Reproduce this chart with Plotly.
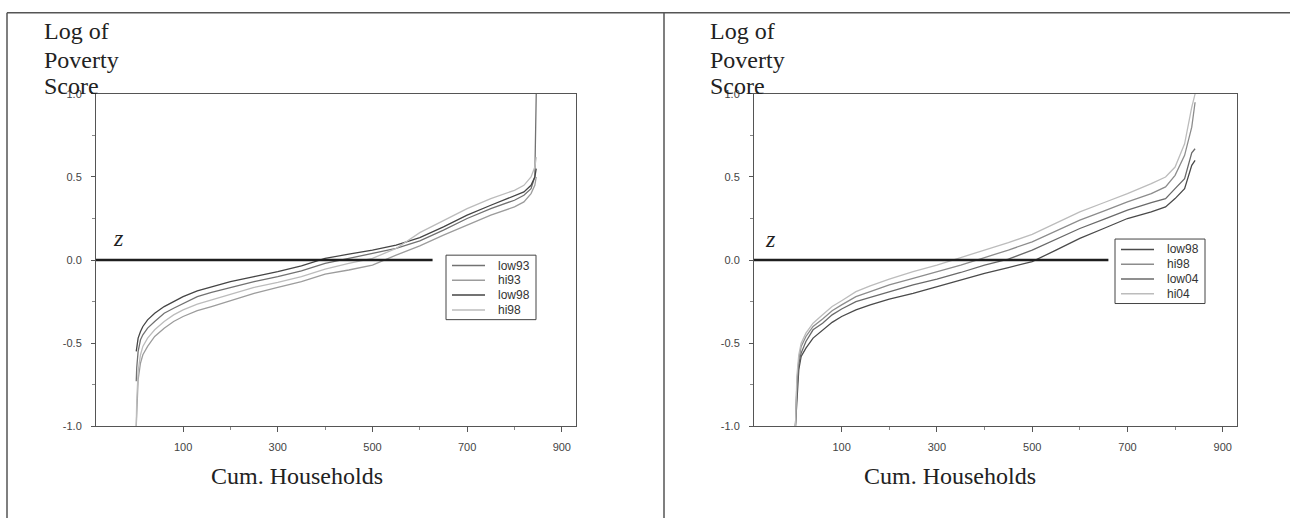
import plotly.graph_objects as go

# ---------------- data ----------------
x_left = [1, 2, 5, 10, 15, 25, 40, 60, 80, 100, 130, 160, 200, 250, 300, 350,
          400, 450, 500, 550, 600, 650, 700, 750, 800, 820, 835, 843, 846]
low93 = [-0.73, -0.65, -0.55, -0.48, -0.45, -0.41, -0.37, -0.32, -0.29, -0.26, -0.22, -0.195,
         -0.165, -0.13, -0.10, -0.065, -0.02, 0.01, 0.04, 0.07, 0.115, 0.18, 0.25, 0.31,
         0.36, 0.39, 0.43, 0.50, 1.0]
hi93 = [-1.0, -0.90, -0.72, -0.62, -0.57, -0.52, -0.46, -0.41, -0.37, -0.34, -0.305, -0.28,
        -0.245, -0.20, -0.165, -0.13, -0.085, -0.06, -0.03, 0.03, 0.085, 0.15, 0.21, 0.27,
        0.32, 0.35, 0.40, 0.45, 0.50]
low98_a = [-0.55, -0.52, -0.47, -0.43, -0.40, -0.36, -0.32, -0.28, -0.25, -0.22, -0.185, -0.16,
           -0.13, -0.10, -0.07, -0.035, 0.01, 0.035, 0.06, 0.09, 0.135, 0.20, 0.27, 0.33,
           0.39, 0.41, 0.45, 0.50, 0.55]
hi98_a = [-1.0, -0.85, -0.67, -0.57, -0.52, -0.47, -0.42, -0.37, -0.33, -0.30, -0.265, -0.24,
          -0.21, -0.165, -0.135, -0.10, -0.055, -0.02, 0.01, 0.07, 0.165, 0.24, 0.31, 0.37,
          0.42, 0.45, 0.50, 0.56, 0.62]

x_right = [3, 4, 6, 10, 15, 25, 40, 60, 80, 100, 130, 160, 200, 250, 300, 350,
           400, 450, 500, 550, 600, 650, 700, 750, 780, 800, 820, 835, 842]
low98_b = [-1.0, -0.95, -0.82, -0.66, -0.58, -0.53, -0.47, -0.42, -0.375, -0.34, -0.30, -0.27,
           -0.235, -0.20, -0.16, -0.12, -0.08, -0.045, -0.01, 0.06, 0.13, 0.19, 0.25, 0.29,
           0.32, 0.37, 0.43, 0.57, 0.60]
hi98_b = [-1.0, -0.88, -0.74, -0.60, -0.52, -0.46, -0.40, -0.355, -0.305, -0.27, -0.22, -0.19,
          -0.15, -0.11, -0.07, -0.03, 0.015, 0.06, 0.11, 0.175, 0.24, 0.295, 0.35, 0.40,
          0.44, 0.51, 0.63, 0.80, 0.95]
low04 = [-1.0, -0.92, -0.78, -0.63, -0.56, -0.49, -0.42, -0.38, -0.33, -0.295, -0.25, -0.225,
         -0.19, -0.15, -0.115, -0.075, -0.03, 0.005, 0.06, 0.125, 0.19, 0.245, 0.30, 0.345,
         0.37, 0.43, 0.49, 0.645, 0.67]
hi04 = [-1.0, -0.85, -0.70, -0.57, -0.50, -0.44, -0.38, -0.33, -0.28, -0.245, -0.19, -0.155,
        -0.115, -0.07, -0.03, 0.015, 0.06, 0.105, 0.155, 0.22, 0.29, 0.345, 0.40, 0.46,
        0.50, 0.56, 0.70, 0.92, 1.0]

z_level = 0.0
z_line_left = [-84, 627]
z_line_right = [-84, 660]

x_ticks = [100, 300, 500, 700, 900]
x_minor = [200, 400, 600, 800]
y_ticks = [-1.0, -0.5, 0.0, 0.5, 1.0]
y_tick_text = ["-1.0", "-0.5", "0.0", "0.5", "1.0"]
y_minor = [-0.75, -0.25, 0.25, 0.75]

left_names = ["low93", "hi93", "low98", "hi98"]
right_names = ["low98", "hi98", "low04", "hi04"]

# ---------------- figure ----------------
W, H = 1295, 524
def px_x(p):
    return p / W
def px_y(p):
    return (H - p) / H

SERIF = "Liberation Serif, Times New Roman, serif"
SANS = "Liberation Sans, Arial, sans-serif"

fig = go.Figure()

left_series = [low93, hi93, low98_a, hi98_a]
left_colors = ["#727272", "#9c9c9c", "#454545", "#bcbcbc"]
for name, ys, col in zip(left_names, left_series, left_colors):
    fig.add_trace(go.Scatter(x=x_left, y=ys, mode="lines", name=name,
                             line=dict(color=col, width=1.3), showlegend=False,
                             xaxis="x", yaxis="y"))

right_series = [low98_b, hi98_b, low04, hi04]
right_colors = ["#4a4a4a", "#8c8c8c", "#6a6a6a", "#bcbcbc"]
for name, ys, col in zip(right_names, right_series, right_colors):
    fig.add_trace(go.Scatter(x=x_right, y=ys, mode="lines", name=name,
                             line=dict(color=col, width=1.3), showlegend=False,
                             xaxis="x2", yaxis="y2"))

fig.add_trace(go.Scatter(x=z_line_left, y=[z_level, z_level], mode="lines",
                         line=dict(color="#1e1e1e", width=2.6), showlegend=False,
                         xaxis="x", yaxis="y"))
fig.add_trace(go.Scatter(x=z_line_right, y=[z_level, z_level], mode="lines",
                         line=dict(color="#1e1e1e", width=2.6), showlegend=False,
                         xaxis="x2", yaxis="y2"))

ydom = [px_y(430), px_y(90)]

def xaxis_cfg(dom, anchor):
    return dict(domain=dom, anchor=anchor, range=[-84, 930],
                tickmode="array", tickvals=x_ticks, ticktext=[str(v) for v in x_ticks],
                ticks="outside", ticklen=5, tickcolor="#555", tickwidth=1,
                ticklabelstandoff=6,
                minor=dict(tickmode="array", tickvals=x_minor, ticks="outside",
                           ticklen=3, tickcolor="#888", showgrid=False),
                showline=True, linecolor="#555", linewidth=1, mirror=True,
                showgrid=False, zeroline=False,
                tickfont=dict(family=SANS, size=11, color="#444"))

def yaxis_cfg(anchor):
    return dict(domain=ydom, anchor=anchor, range=[-1.0, 1.0],
                tickmode="array", tickvals=y_ticks, ticktext=y_tick_text,
                ticks="outside", ticklen=4, tickcolor="#555", tickwidth=1,
                ticklabelstandoff=7,
                minor=dict(tickmode="array", tickvals=y_minor, ticks="outside",
                           ticklen=3, tickcolor="#888", showgrid=False),
                showline=True, linecolor="#555", linewidth=1, mirror=True,
                showgrid=False, zeroline=False,
                tickfont=dict(family=SANS, size=11, color="#444"))

fig.update_layout(
    width=W, height=H, autosize=False,
    margin=dict(l=0, r=0, t=0, b=0),
    paper_bgcolor="white", plot_bgcolor="white",
    xaxis=xaxis_cfg([px_x(96), px_x(576)], "y"),
    yaxis=yaxis_cfg("x"),
    xaxis2=xaxis_cfg([px_x(754), px_x(1237)], "y2"),
    yaxis2=yaxis_cfg("x2"),
    showlegend=False,
)

ann = []
shapes = []

# axis titles and labels
for x0 in (42, 708):
    for txt, yc in (("Log of", 30), ("Poverty", 59), ("Score", 86)):
        ann.append(dict(text=txt, x=px_x(x0), y=px_y(yc - 4), xref="paper", yref="paper",
                        xanchor="left", yanchor="middle", showarrow=False,
                        font=dict(family=SERIF, size=24, color="#222")))
for xc in (297, 950):
    ann.append(dict(text="Cum. Households", x=px_x(xc), y=px_y(481), xref="paper", yref="paper",
                    xanchor="center", yanchor="middle", showarrow=False,
                    font=dict(family=SERIF, size=24, color="#222")))
for xc, yc in ((118, 237), (770, 238)):
    ann.append(dict(text="<i>z</i>", x=px_x(xc), y=px_y(yc), xref="paper", yref="paper",
                    xanchor="center", yanchor="middle", showarrow=False,
                    font=dict(family=SERIF, size=24, color="#222")))

# legends (boxed, one per panel)
def add_legend(bx, by, names, colors):
    shapes.append(dict(type="rect", xref="paper", yref="paper",
                       x0=px_x(bx), x1=px_x(bx + 90), y0=px_y(by), y1=px_y(by + 66),
                       line=dict(color="#444", width=1), fillcolor="white", layer="above"))
    for i, (nm, col) in enumerate(zip(names, colors)):
        ry = by + 10.7 + 15.1 * i
        shapes.append(dict(type="line", xref="paper", yref="paper",
                           x0=px_x(bx + 6), x1=px_x(bx + 39), y0=px_y(ry), y1=px_y(ry),
                           line=dict(color=col, width=1.5), layer="above"))
        ann.append(dict(text=nm, x=px_x(bx + 50), y=px_y(ry), xref="paper", yref="paper",
                        xanchor="left", yanchor="middle", showarrow=False,
                        font=dict(family=SANS, size=12, color="#333")))

add_legend(446, 255, left_names, left_colors)
add_legend(1115, 238.5, right_names, right_colors)

# outer frame of the scanned figure
shapes += [
    dict(type="line", xref="paper", yref="paper", x0=px_x(7), x1=px_x(1290), y0=px_y(7), y1=px_y(7),
         line=dict(color="#555", width=1.5)),
    dict(type="line", xref="paper", yref="paper", x0=px_x(7), x1=px_x(7), y0=px_y(7), y1=0,
         line=dict(color="#555", width=1.5)),
    dict(type="line", xref="paper", yref="paper", x0=px_x(664), x1=px_x(664), y0=px_y(7), y1=0,
         line=dict(color="#555", width=1.5)),
]
fig.update_layout(annotations=ann, shapes=shapes)

fig.write_html("out.html", config={"displayModeBar": False},
               post_script="document.body.style.margin='0';document.body.style.overflow='hidden';")
